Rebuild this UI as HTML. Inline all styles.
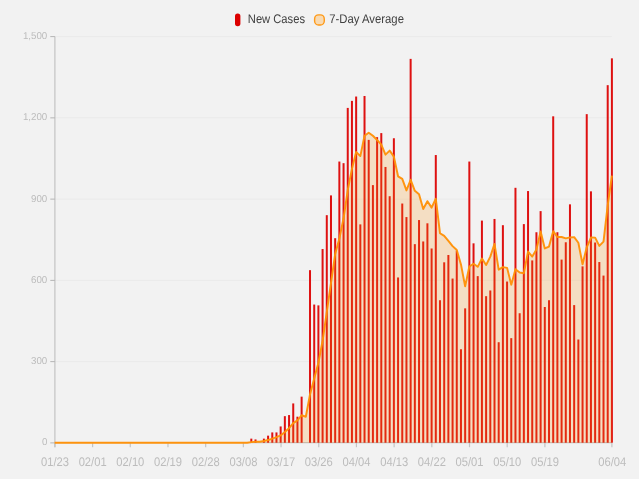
<!DOCTYPE html>
<html lang="en">
<head>
<meta charset="utf-8">
<title>New Cases</title>
<style>
html,body{margin:0;padding:0;background:#f2f2f2;}
body{width:639px;height:479px;overflow:hidden;}
svg{display:block;}
text{font-family:"Liberation Sans",Arial,sans-serif;text-rendering:geometricPrecision;}
.yl{font-size:10px;fill:#bcbcbc;text-anchor:end;}
.xl{font-size:12.5px;fill:#bcbcbc;text-anchor:middle;}
.lg{font-size:12.5px;fill:#404040;}
</style>
</head>
<body>
<svg width="639" height="479" viewBox="0 0 639 479">
<defs><filter id="soft" x="-5%" y="-20%" width="110%" height="140%"><feGaussianBlur stdDeviation="0.3"/></filter></defs>
<rect width="639" height="479" fill="#f2f2f2"/>
<g stroke="#eaeaea" stroke-width="1">
<line x1="54.9" y1="361.64" x2="611.9" y2="361.64"/>
<line x1="54.9" y1="280.38" x2="611.9" y2="280.38"/>
<line x1="54.9" y1="199.12" x2="611.9" y2="199.12"/>
<line x1="54.9" y1="117.86" x2="611.9" y2="117.86"/>
<line x1="54.9" y1="36.6" x2="611.9" y2="36.6"/>
</g>
<g stroke="#c4c4c4" stroke-width="1.2">
<line x1="54.9" y1="36.4" x2="54.9" y2="447.2"/>
<line x1="54.9" y1="442.7" x2="611.9" y2="442.7"/>
<line stroke="#b4b4b4" stroke-width="1" x1="50.3" y1="442.9" x2="54.9" y2="442.9"/>
<line stroke="#b4b4b4" stroke-width="1" x1="50.3" y1="361.64" x2="54.9" y2="361.64"/>
<line stroke="#b4b4b4" stroke-width="1" x1="50.3" y1="280.38" x2="54.9" y2="280.38"/>
<line stroke="#b4b4b4" stroke-width="1" x1="50.3" y1="199.12" x2="54.9" y2="199.12"/>
<line stroke="#b4b4b4" stroke-width="1" x1="50.3" y1="117.86" x2="54.9" y2="117.86"/>
<line stroke="#b4b4b4" stroke-width="1" x1="50.3" y1="36.6" x2="54.9" y2="36.6"/>
<line x1="54.9" y1="442.7" x2="54.9" y2="447.2"/>
<line x1="92.59" y1="442.7" x2="92.59" y2="447.2"/>
<line x1="130.28" y1="442.7" x2="130.28" y2="447.2"/>
<line x1="167.98" y1="442.7" x2="167.98" y2="447.2"/>
<line x1="205.67" y1="442.7" x2="205.67" y2="447.2"/>
<line x1="243.36" y1="442.7" x2="243.36" y2="447.2"/>
<line x1="281.05" y1="442.7" x2="281.05" y2="447.2"/>
<line x1="318.74" y1="442.7" x2="318.74" y2="447.2"/>
<line x1="356.43" y1="442.7" x2="356.43" y2="447.2"/>
<line x1="394.13" y1="442.7" x2="394.13" y2="447.2"/>
<line x1="431.82" y1="442.7" x2="431.82" y2="447.2"/>
<line x1="469.51" y1="442.7" x2="469.51" y2="447.2"/>
<line x1="507.2" y1="442.7" x2="507.2" y2="447.2"/>
<line x1="544.89" y1="442.7" x2="544.89" y2="447.2"/>
<line x1="611.9" y1="442.7" x2="611.9" y2="447.2"/>
</g>
<g fill="#dd0000" fill-opacity="0.93">
<rect x="250.31" y="438.64" width="2" height="4.06"/>
<rect x="254.51" y="439.45" width="2" height="3.25"/>
<rect x="262.89" y="438.64" width="2" height="4.06"/>
<rect x="267.09" y="435.66" width="2" height="7.04"/>
<rect x="271.28" y="432.41" width="2" height="10.29"/>
<rect x="275.47" y="432.41" width="2" height="10.29"/>
<rect x="279.66" y="426.45" width="2" height="16.25"/>
<rect x="283.86" y="416.16" width="2" height="26.54"/>
<rect x="288.05" y="415.07" width="2" height="27.63"/>
<rect x="292.24" y="403.42" width="2" height="39.28"/>
<rect x="296.44" y="416.7" width="2" height="26"/>
<rect x="300.63" y="396.65" width="2" height="46.05"/>
<rect x="309.01" y="270.16" width="2" height="172.54"/>
<rect x="313.21" y="304.56" width="2" height="138.14"/>
<rect x="317.4" y="305.37" width="2" height="137.33"/>
<rect x="321.59" y="249.03" width="2" height="193.67"/>
<rect x="325.79" y="215.17" width="2" height="227.53"/>
<rect x="329.98" y="195.4" width="2" height="247.3"/>
<rect x="334.17" y="238.2" width="2" height="204.5"/>
<rect x="338.36" y="161.54" width="2" height="281.16"/>
<rect x="342.56" y="163.17" width="2" height="279.53"/>
<rect x="346.75" y="107.91" width="2" height="334.79"/>
<rect x="350.94" y="100.87" width="2" height="341.83"/>
<rect x="355.14" y="96.53" width="2" height="346.17"/>
<rect x="359.33" y="224.38" width="2" height="218.32"/>
<rect x="363.52" y="95.99" width="2" height="346.71"/>
<rect x="367.71" y="139.87" width="2" height="302.83"/>
<rect x="371.91" y="185.11" width="2" height="257.59"/>
<rect x="376.1" y="137.16" width="2" height="305.54"/>
<rect x="380.29" y="133.1" width="2" height="309.6"/>
<rect x="384.49" y="166.96" width="2" height="275.74"/>
<rect x="388.68" y="196.21" width="2" height="246.49"/>
<rect x="392.87" y="138.25" width="2" height="304.45"/>
<rect x="397.06" y="277.47" width="2" height="165.23"/>
<rect x="401.26" y="203.52" width="2" height="239.18"/>
<rect x="405.45" y="217.07" width="2" height="225.63"/>
<rect x="409.64" y="58.88" width="2" height="383.82"/>
<rect x="413.84" y="244.15" width="2" height="198.55"/>
<rect x="418.03" y="220.05" width="2" height="222.65"/>
<rect x="422.22" y="241.45" width="2" height="201.25"/>
<rect x="426.41" y="223.3" width="2" height="219.4"/>
<rect x="430.61" y="248.49" width="2" height="194.21"/>
<rect x="434.8" y="155.04" width="2" height="287.66"/>
<rect x="438.99" y="300.22" width="2" height="142.48"/>
<rect x="443.19" y="262.3" width="2" height="180.4"/>
<rect x="447.38" y="254.99" width="2" height="187.71"/>
<rect x="451.57" y="278.55" width="2" height="164.15"/>
<rect x="455.76" y="250.66" width="2" height="192.04"/>
<rect x="459.96" y="349.25" width="2" height="93.45"/>
<rect x="464.15" y="308.35" width="2" height="134.35"/>
<rect x="468.34" y="161.54" width="2" height="281.16"/>
<rect x="472.54" y="243.34" width="2" height="199.36"/>
<rect x="476.73" y="276.12" width="2" height="166.58"/>
<rect x="480.92" y="220.59" width="2" height="222.11"/>
<rect x="485.11" y="296.16" width="2" height="146.54"/>
<rect x="489.31" y="290.47" width="2" height="152.23"/>
<rect x="493.5" y="218.96" width="2" height="223.74"/>
<rect x="497.69" y="342.21" width="2" height="100.49"/>
<rect x="501.89" y="225.19" width="2" height="217.51"/>
<rect x="506.08" y="281.53" width="2" height="161.17"/>
<rect x="510.27" y="338.15" width="2" height="104.55"/>
<rect x="514.46" y="187.81" width="2" height="254.89"/>
<rect x="518.66" y="313.23" width="2" height="129.47"/>
<rect x="522.85" y="224.11" width="2" height="218.59"/>
<rect x="527.04" y="191.06" width="2" height="251.64"/>
<rect x="531.24" y="260.41" width="2" height="182.29"/>
<rect x="535.43" y="232.24" width="2" height="210.46"/>
<rect x="539.62" y="211.11" width="2" height="231.59"/>
<rect x="543.81" y="307" width="2" height="135.7"/>
<rect x="548.01" y="300.22" width="2" height="142.48"/>
<rect x="552.2" y="116.31" width="2" height="326.39"/>
<rect x="556.39" y="232.24" width="2" height="210.46"/>
<rect x="560.59" y="259.59" width="2" height="183.11"/>
<rect x="564.78" y="242.26" width="2" height="200.44"/>
<rect x="568.97" y="204.34" width="2" height="238.36"/>
<rect x="573.16" y="305.1" width="2" height="137.6"/>
<rect x="577.36" y="339.5" width="2" height="103.2"/>
<rect x="581.55" y="266.37" width="2" height="176.33"/>
<rect x="585.74" y="114.14" width="2" height="328.56"/>
<rect x="589.94" y="191.34" width="2" height="251.36"/>
<rect x="594.13" y="242.53" width="2" height="200.17"/>
<rect x="598.32" y="262.03" width="2" height="180.67"/>
<rect x="602.51" y="275.58" width="2" height="167.12"/>
<rect x="606.71" y="85.16" width="2" height="357.54"/>
<rect x="610.9" y="58.34" width="2" height="384.36"/>
</g>
<polygon fill="#ff9208" fill-opacity="0.2" points="54.25,442.7 54.6,442.7 58.44,442.7 62.64,442.7 66.83,442.7 71.02,442.7 75.21,442.7 79.41,442.7 83.6,442.7 87.79,442.7 91.99,442.7 96.18,442.7 100.37,442.7 104.56,442.7 108.76,442.7 112.95,442.7 117.14,442.7 121.34,442.7 125.53,442.7 129.72,442.7 133.91,442.7 138.11,442.7 142.3,442.7 146.49,442.7 150.69,442.7 154.88,442.7 159.07,442.7 163.26,442.7 167.46,442.7 171.65,442.7 175.84,442.7 180.04,442.7 184.23,442.7 188.42,442.7 192.61,442.7 196.81,442.7 201,442.7 205.19,442.7 209.39,442.7 213.58,442.7 217.77,442.7 221.96,442.7 226.16,442.7 230.35,442.7 234.54,442.7 238.74,442.7 242.93,442.7 247.12,442.7 251.31,442.12 255.51,441.66 259.7,441.66 263.89,441.07 268.09,440.07 272.28,438.6 276.47,437.13 280.66,435.39 284.86,432.06 289.05,428.11 293.24,423.08 297.44,420.37 301.63,415.27 305.82,416.74 310.01,394.41 314.21,378.47 318.4,362.79 322.59,340.74 326.79,311.95 330.98,283.2 335.17,253.98 339.36,238.47 343.56,218.27 347.75,190.06 351.94,168.89 356.14,151.94 360.33,156.08 364.52,135.77 368.71,132.67 372.91,135.81 377.1,139.99 381.29,144.59 385.49,154.65 389.68,150.63 393.87,156.66 398.06,176.32 402.26,178.95 406.45,190.37 410.64,179.77 414.84,190.79 419.03,194.2 423.22,208.94 427.41,201.2 431.61,207.63 435.8,198.77 439.99,233.24 444.19,235.84 448.38,240.83 452.57,246.13 456.76,250.04 460.96,264.43 465.15,286.33 469.34,266.52 473.54,263.81 477.73,266.83 481.92,258.55 486.11,265.05 490.31,256.65 494.5,243.88 498.69,269.69 502.89,267.1 507.08,267.87 511.27,284.67 515.46,269.19 519.66,272.44 523.85,273.18 528.04,251.58 532.24,256.61 536.43,249.57 540.62,231.42 544.81,248.45 549.01,246.59 553.2,231.19 557.39,237.07 561.59,236.96 565.78,238.39 569.97,237.42 574.16,237.15 578.36,242.76 582.55,264.2 586.74,247.33 590.94,237.58 595.13,237.62 599.32,245.86 603.51,241.64 607.71,205.3 611.9,175.59 611.9,442.7"/>
<polyline fill="none" stroke="#ff9208" stroke-width="1.95" stroke-opacity="0.97" stroke-linejoin="round" stroke-linecap="butt" points="54.6,442.7 58.44,442.7 62.64,442.7 66.83,442.7 71.02,442.7 75.21,442.7 79.41,442.7 83.6,442.7 87.79,442.7 91.99,442.7 96.18,442.7 100.37,442.7 104.56,442.7 108.76,442.7 112.95,442.7 117.14,442.7 121.34,442.7 125.53,442.7 129.72,442.7 133.91,442.7 138.11,442.7 142.3,442.7 146.49,442.7 150.69,442.7 154.88,442.7 159.07,442.7 163.26,442.7 167.46,442.7 171.65,442.7 175.84,442.7 180.04,442.7 184.23,442.7 188.42,442.7 192.61,442.7 196.81,442.7 201,442.7 205.19,442.7 209.39,442.7 213.58,442.7 217.77,442.7 221.96,442.7 226.16,442.7 230.35,442.7 234.54,442.7 238.74,442.7 242.93,442.7 247.12,442.7 251.31,442.12 255.51,441.66 259.7,441.66 263.89,441.07 268.09,440.07 272.28,438.6 276.47,437.13 280.66,435.39 284.86,432.06 289.05,428.11 293.24,423.08 297.44,420.37 301.63,415.27 305.82,416.74 310.01,394.41 314.21,378.47 318.4,362.79 322.59,340.74 326.79,311.95 330.98,283.2 335.17,253.98 339.36,238.47 343.56,218.27 347.75,190.06 351.94,168.89 356.14,151.94 360.33,156.08 364.52,135.77 368.71,132.67 372.91,135.81 377.1,139.99 381.29,144.59 385.49,154.65 389.68,150.63 393.87,156.66 398.06,176.32 402.26,178.95 406.45,190.37 410.64,179.77 414.84,190.79 419.03,194.2 423.22,208.94 427.41,201.2 431.61,207.63 435.8,198.77 439.99,233.24 444.19,235.84 448.38,240.83 452.57,246.13 456.76,250.04 460.96,264.43 465.15,286.33 469.34,266.52 473.54,263.81 477.73,266.83 481.92,258.55 486.11,265.05 490.31,256.65 494.5,243.88 498.69,269.69 502.89,267.1 507.08,267.87 511.27,284.67 515.46,269.19 519.66,272.44 523.85,273.18 528.04,251.58 532.24,256.61 536.43,249.57 540.62,231.42 544.81,248.45 549.01,246.59 553.2,231.19 557.39,237.07 561.59,236.96 565.78,238.39 569.97,237.42 574.16,237.15 578.36,242.76 582.55,264.2 586.74,247.33 590.94,237.58 595.13,237.62 599.32,245.86 603.51,241.64 607.71,205.3 611.9,175.59"/>
<g filter="url(#soft)">
<text class="yl" transform="translate(47.3,445.4) scale(0.975,1)">0</text>
<text class="yl" transform="translate(47.3,364.14) scale(0.975,1)">300</text>
<text class="yl" transform="translate(47.3,282.88) scale(0.975,1)">600</text>
<text class="yl" transform="translate(47.3,201.62) scale(0.975,1)">900</text>
<text class="yl" transform="translate(47.3,120.36) scale(0.975,1)">1,200</text>
<text class="yl" transform="translate(47.3,39.1) scale(0.975,1)">1,500</text>
<text class="xl" transform="translate(54.95,465.6) scale(0.895,1)">01/23</text>
<text class="xl" transform="translate(92.64,465.6) scale(0.895,1)">02/01</text>
<text class="xl" transform="translate(130.33,465.6) scale(0.895,1)">02/10</text>
<text class="xl" transform="translate(168.03,465.6) scale(0.895,1)">02/19</text>
<text class="xl" transform="translate(205.72,465.6) scale(0.895,1)">02/28</text>
<text class="xl" transform="translate(243.41,465.6) scale(0.895,1)">03/08</text>
<text class="xl" transform="translate(281.1,465.6) scale(0.895,1)">03/17</text>
<text class="xl" transform="translate(318.79,465.6) scale(0.895,1)">03/26</text>
<text class="xl" transform="translate(356.48,465.6) scale(0.895,1)">04/04</text>
<text class="xl" transform="translate(394.18,465.6) scale(0.895,1)">04/13</text>
<text class="xl" transform="translate(431.87,465.6) scale(0.895,1)">04/22</text>
<text class="xl" transform="translate(469.56,465.6) scale(0.895,1)">05/01</text>
<text class="xl" transform="translate(507.25,465.6) scale(0.895,1)">05/10</text>
<text class="xl" transform="translate(544.94,465.6) scale(0.895,1)">05/19</text>
<text class="xl" transform="translate(612.25,465.6) scale(0.895,1)">06/04</text>
<rect x="235" y="13.4" width="5.4" height="12.8" rx="2.6" ry="2.6" fill="#dc0000"/>
<text class="lg" transform="translate(247.8,22.9) scale(0.895,1)">New Cases</text>
<rect x="314.6" y="14.9" width="9.7" height="10.1" rx="3.9" ry="4.1" fill="#f8dab2" stroke="#ff9208" stroke-opacity="0.92" stroke-width="1.4"/>
<text class="lg" transform="translate(329.3,22.9) scale(0.905,1)">7-Day Average</text>
</g>
</svg>
</body>
</html>
